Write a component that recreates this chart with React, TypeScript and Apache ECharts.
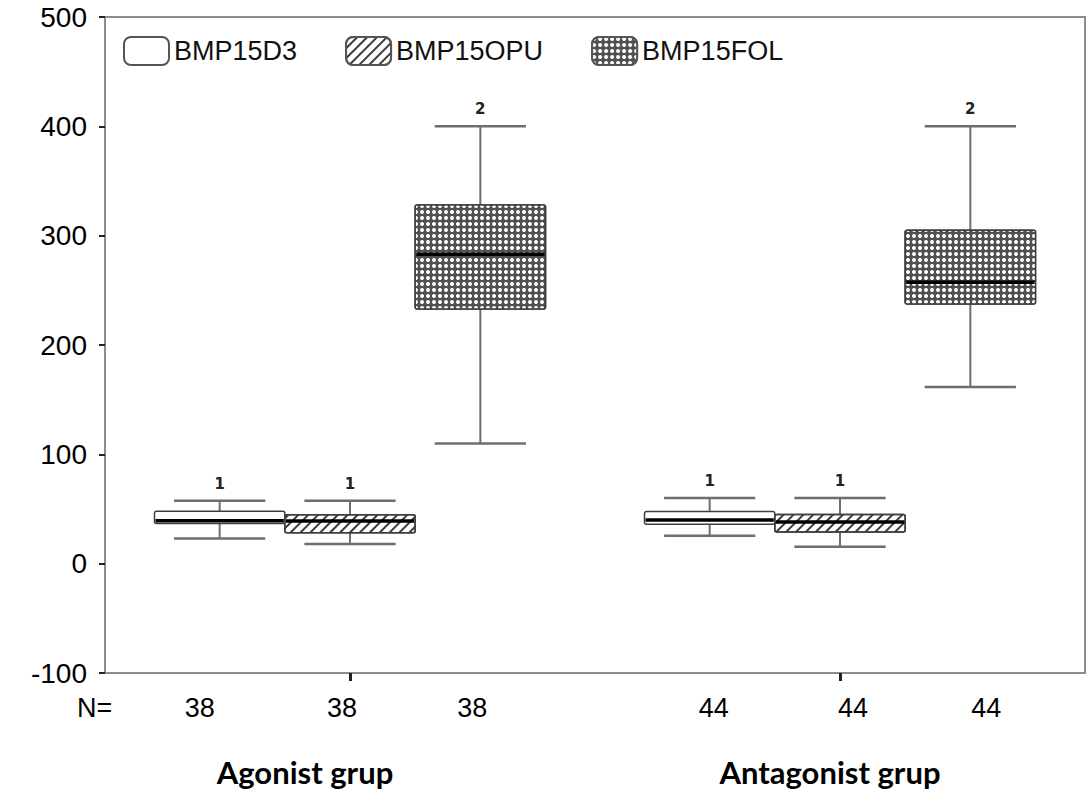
import { useEffect, useRef } from 'react';
import * as echarts from 'echarts';

// ---- data ----
const groups = ['Agonist grup', 'Antagonist grup'];
const seriesNames = ['BMP15D3', 'BMP15OPU', 'BMP15FOL'];
// [lower whisker, Q1, median, Q3, upper whisker] per group
const d3Stats = [
  [23, 36.8, 39.3, 48, 57.5],
  [25.5, 36, 40, 47.8, 60],
];
const opuStats = [
  [18, 28.3, 39, 44.7, 57.5],
  [15.5, 29, 38, 45, 60],
];
const folStats = [
  [110, 233, 283, 328, 400],
  [161.5, 237.5, 257.5, 305, 400],
];
const caseLabels = ['1', '1', '2'];
const nCounts = [
  [38, 38, 38],
  [44, 44, 44],
];
const yMin = -100;
const yMax = 500;
const yInterval = 100;

const statsList = [d3Stats, opuStats, folStats];

// ---- styling ----
const boxFills = ['#ffffff', '#ffffff', '#505050'];
const decals: any[] = [
  undefined,
  {
    symbol: 'rect',
    symbolSize: 1,
    color: '#3a3a3a',
    dashArrayX: [1, 0],
    dashArrayY: [2, 5],
    rotation: -Math.PI / 4,
  },
  {
    symbol: 'circle',
    symbolSize: 1,
    color: '#ffffff',
    dashArrayX: [4, 1.2],
    dashArrayY: [4, 1.2],
    rotation: 0,
  },
];
const nLabelNudge = [
  [-20, -8, -8],
  [4, 13, 16],
];
const groupLabelNudge = [-45, -10];
const BOX_FRAC = 0.266;

export default function App() {
  const ref = useRef<HTMLDivElement>(null);
  useEffect(() => {
    if (!ref.current) return;
    const chart = echarts.init(ref.current, null, { renderer: 'svg' });
    const font = "'Liberation Sans', Arial, sans-serif";

    const series = statsList.map((stats, si) => ({
      type: 'custom',
      name: seriesNames[si],
      data: stats.map((s, gi) => [gi, ...s]),
      encode: { x: 0, y: [1, 2, 3, 4, 5] },
      itemStyle: {
        color: boxFills[si],
        borderColor: '#555555',
        borderWidth: 1.5,
        decal: decals[si],
      },
      renderItem: (params: any, api: any) => {
        const cat = api.value(0);
        const band = api.size([1, 0])[0];
        const boxW = band * BOX_FRAC;
        const cx = api.coord([cat, 0])[0] + (si - 1) * boxW;
        const y = (i: number) => api.coord([cat, api.value(i)])[1];
        const yLo = y(1), yQ1 = y(2), yMed = y(3), yQ3 = y(4), yHi = y(5);
        const capHalf = boxW * 0.35;
        const whisk = { stroke: '#6e6e6e', lineWidth: 2 };
        const cap = { stroke: '#6e6e6e', lineWidth: 2.5 };
        const boxStyle: any = { fill: boxFills[si], stroke: '#3e3e3e', lineWidth: 1.5 };
        if (decals[si]) boxStyle.decal = decals[si];
        return {
          type: 'group',
          children: [
            { type: 'line', shape: { x1: cx, y1: yHi, x2: cx, y2: yQ3 }, style: whisk },
            { type: 'line', shape: { x1: cx, y1: yQ1, x2: cx, y2: yLo }, style: whisk },
            { type: 'line', shape: { x1: cx - capHalf, y1: yHi, x2: cx + capHalf, y2: yHi }, style: cap },
            { type: 'line', shape: { x1: cx - capHalf, y1: yLo, x2: cx + capHalf, y2: yLo }, style: cap },
            {
              type: 'rect',
              shape: { x: cx - boxW / 2, y: yQ3, width: boxW, height: yQ1 - yQ3, r: 2 },
              style: boxStyle,
            },
            {
              type: 'line',
              shape: { x1: cx - boxW / 2 + 1, y1: yMed, x2: cx + boxW / 2 - 1, y2: yMed },
              style: { stroke: '#000', lineWidth: 3.5 },
            },
            {
              type: 'text',
              x: cx,
              y: yHi - 17,
              style: {
                text: caseLabels[si],
                fontSize: 15,
                fontWeight: 'bold',
                fontFamily: "'DejaVu Sans', sans-serif",
                fill: '#222',
                align: 'center',
                verticalAlign: 'middle',
              },
            },
          ],
        };
      },
    }));

    chart.setOption({
      animation: false,
      backgroundColor: '#ffffff',
      grid: {
        left: 105,
        right: 4,
        top: 17,
        bottom: 123,
        show: true,
        borderColor: '#8c8c8c',
        borderWidth: 2,
      },
      legend: {
        left: 118,
        top: 31,
        itemWidth: 45,
        itemHeight: 28,
        itemGap: 48,
        icon: 'roundRect',
        data: seriesNames,
        textStyle: { fontSize: 27, color: '#111', fontFamily: font },
      },
      xAxis: {
        type: 'category',
        data: groups,
        boundaryGap: true,
        axisLine: { show: true, onZero: false, lineStyle: { color: '#8c8c8c', width: 2 } },
        axisTick: { show: true, alignWithLabel: true, length: 8, lineStyle: { color: '#222', width: 3 } },
        axisLabel: { show: false },
        splitLine: { show: false },
      },
      yAxis: {
        type: 'value',
        min: yMin,
        max: yMax,
        interval: yInterval,
        axisLine: { show: true, lineStyle: { color: '#8c8c8c', width: 2 } },
        axisTick: { show: true, length: 6, lineStyle: { color: '#222', width: 2 } },
        axisLabel: { fontSize: 28, color: '#000', fontFamily: font, margin: 18 },
        splitLine: { show: false },
      },
      series,
    });

    const gx = (gi: number) => chart.convertToPixel({ xAxisIndex: 0 }, gi) as number;
    const band = gx(1) - gx(0);
    const boxW = band * BOX_FRAC;
    const graphic: any[] = [
      {
        type: 'text',
        left: 77,
        top: 694,
        style: { text: 'N=', fontSize: 27, fill: '#000', fontFamily: font },
      },
    ];
    nCounts.forEach((row, gi) => {
      row.forEach((n, si) => {
        graphic.push({
          type: 'text',
          x: gx(gi) + (si - 1) * boxW + nLabelNudge[gi][si],
          y: 708,
          style: {
            text: String(n),
            fontSize: 27,
            fill: '#000',
            fontFamily: font,
            align: 'center',
            verticalAlign: 'middle',
          },
        });
      });
    });
    groups.forEach((g, gi) => {
      graphic.push({
        type: 'text',
        x: gx(gi) + groupLabelNudge[gi],
        y: 772,
        style: {
          text: g,
          fontSize: 31,
          fontWeight: 'bold',
          fill: '#000',
          fontFamily: "Lato, 'Open Sans', sans-serif",
          align: 'center',
          verticalAlign: 'middle',
        },
      });
    });
    chart.setOption({ graphic });

    return () => chart.dispose();
  }, []);
  return (
    <div
      ref={ref}
      style={{ position: 'absolute', left: 0, top: 0, width: 1089, height: 796 }}
    />
  );
}
